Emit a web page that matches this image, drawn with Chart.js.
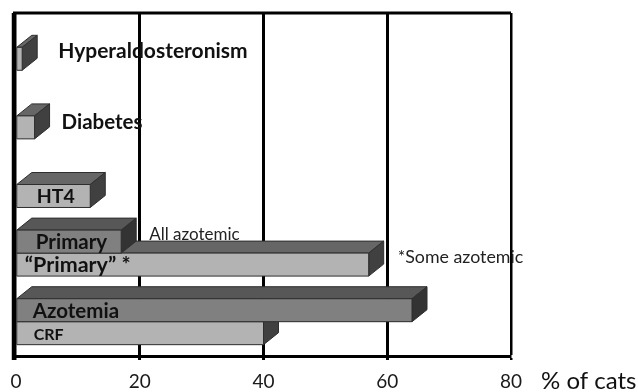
<!DOCTYPE html>
<html><head><meta charset="utf-8">
<script src="https://cdn.jsdelivr.net/npm/chart.js@4/dist/chart.umd.min.js"></script>
<style>html,body{margin:0;padding:0;background:#fff}</style>
</head><body>
<canvas id="c" width="638" height="392"></canvas>
<script>
// ---- data ----
const categories = ['Hyperaldosteronism', 'Diabetes', 'HT4', 'Primary', 'CRF'];
const darkValues = [null, null, null, 17, 64];   // "Primary" (all azotemic), Azotemia
const lightValues = [1, 3, 12, 57, 40];          // Hyperaldo, Diabetes, HT4, "Primary"*, CRF
const xTicks = [0, 20, 40, 60, 80];
const axisTitle = '% of cats';

// ---- annotation layout (text placed relative to bar elements) ----
const notes = [
  {text: 'Hyperaldosteronism', ds: 1, idx: 0, from: 'end', dx: 36, dy: -8, bold: true, size: 21, layer: 'under'},
  {text: 'Diabetes', ds: 1, idx: 1, from: 'end', dx: 27, dy: -6, bold: true, size: 20.5, layer: 'under'},
  {text: 'HT4', ds: 1, idx: 2, from: 'base', dx: 20, dy: 0, bold: true, size: 19.5, layer: 'over'},
  {text: 'Primary', ds: 0, idx: 3, from: 'base', dx: 19, dy: 0, bold: true, size: 20.5, layer: 'over'},
  {text: 'All azotemic', ds: 0, idx: 3, from: 'end', dx: 28, dy: -7.5, bold: false, size: 17, layer: 'over', color: '#222'},
  {text: '\u201cPrimary\u201d *', ds: 1, idx: 3, from: 'base', dx: 8, dy: 0, bold: true, size: 21.5, layer: 'over'},
  {text: '*Some azotemic', ds: 1, idx: 3, from: 'end', dx: 29, dy: -8, bold: false, size: 17.8, layer: 'under', color: '#222'},
  {text: 'Azotemia', ds: 0, idx: 4, from: 'base', dx: 16, dy: 0, bold: true, size: 20.5, layer: 'over'},
  {text: 'CRF', ds: 1, idx: 4, from: 'base', dx: 17, dy: 1.5, bold: true, size: 16, layer: 'over'}
];

const DEPTH_X = 15, DEPTH_Y = -12;
const faces = [
  {front: '#808080', top: '#575757', side: '#333333'},
  {front: '#b3b3b3', top: '#666666', side: '#404040'}
];

function drawNotes(chart, layer) {
  const ctx = chart.ctx;
  ctx.save();
  notes.filter(n => n.layer === layer).forEach(n => {
    const el = chart.getDatasetMeta(n.ds).data[n.idx];
    const x = (n.from === 'end' ? el.x : el.base) + n.dx;
    ctx.font = (n.bold ? 'bold ' : '') + n.size + 'px Lato';
    ctx.fillStyle = n.color || '#111';
    ctx.textAlign = 'left';
    ctx.textBaseline = 'alphabetic';
    ctx.fillText(n.text, x, el.y + n.dy + n.size * 0.36);
  });
  ctx.restore();
}

const threeD = {
  id: 'threeD',
  beforeDatasetsDraw(chart) { drawNotes(chart, 'under'); },
  afterDatasetsDraw(chart) {
    const ctx = chart.ctx;
    const items = [];
    chart.data.datasets.forEach((ds, di) => {
      chart.getDatasetMeta(di).data.forEach((el, i) => {
        if (ds.data[i] == null) return;
        items.push({el, f: faces[di]});
      });
    });
    items.sort((a, b) => b.el.y - a.el.y);
    ctx.save();
    ctx.lineWidth = 1;
    ctx.strokeStyle = '#2e2e2e';
    ctx.lineJoin = 'round';
    const poly = (pts, fill) => {
      ctx.beginPath();
      pts.forEach((p, k) => k ? ctx.lineTo(p[0], p[1]) : ctx.moveTo(p[0], p[1]));
      ctx.closePath();
      ctx.fillStyle = fill; ctx.fill(); ctx.stroke();
    };
    items.forEach(({el, f}) => {
      const x0 = el.base, x1 = el.x, yt = el.y - el.height / 2, yb = el.y + el.height / 2;
      poly([[x0, yt], [x1, yt], [x1 + DEPTH_X, yt + DEPTH_Y], [x0 + DEPTH_X, yt + DEPTH_Y]], f.top);
      poly([[x1, yt], [x1 + DEPTH_X, yt + DEPTH_Y], [x1 + DEPTH_X, yb + DEPTH_Y], [x1, yb]], f.side);
      poly([[x0, yt], [x1, yt], [x1, yb], [x0, yb]], f.front);
    });
    ctx.restore();
    drawNotes(chart, 'over');
  },
  afterDraw(chart) {
    const ctx = chart.ctx, a = chart.chartArea;
    ctx.save();
    ctx.strokeStyle = '#000';
    ctx.lineWidth = 3;
    ctx.beginPath(); ctx.moveTo(a.left - 3, a.top); ctx.lineTo(a.right, a.top); ctx.stroke();
    ctx.lineWidth = 3.5;
    ctx.beginPath(); ctx.moveTo(a.left - 2.5, a.top); ctx.lineTo(a.left - 2.5, a.bottom + 4); ctx.stroke();
    ctx.font = '24px Lato';
    ctx.fillStyle = '#111';
    ctx.textBaseline = 'alphabetic';
    ctx.fillText(axisTitle, a.right + 30, 389);
    ctx.restore();
  }
};

new Chart(document.getElementById('c'), {
  type: 'bar',
  data: {
    labels: categories,
    datasets: [
      {data: darkValues, backgroundColor: faces[0].front, borderWidth: 0},
      {data: lightValues, backgroundColor: faces[1].front, borderWidth: 0}
    ]
  },
  options: {
    responsive: false,
    animation: false,
    devicePixelRatio: 1,
    indexAxis: 'y',
    layout: {padding: {left: 16, right: 127, top: 13, bottom: 0}},
    datasets: {bar: {categoryPercentage: 0.67, barPercentage: 1}},
    plugins: {legend: {display: false}, tooltip: {enabled: false}},
    scales: {
      x: {
        min: 0, max: 80,
        afterBuildTicks: s => { s.ticks = xTicks.map(v => ({value: v})); },
        afterFit: s => { s.height = 36; },
        grid: {
          color: '#000',
          lineWidth: c => (c.tick && c.tick.value === 0) ? 1.5 : (c.tick && c.tick.value === 80 ? 2.5 : 3),
          tickLength: 4
        },
        border: {display: true, color: '#000', width: 3},
        ticks: {font: {family: 'Lato', size: 19}, color: '#1a1a1a', padding: 10, maxRotation: 0, autoSkip: false}
      },
      y: {display: false}
    }
  },
  plugins: [threeD]
});
</script>
</body></html>
